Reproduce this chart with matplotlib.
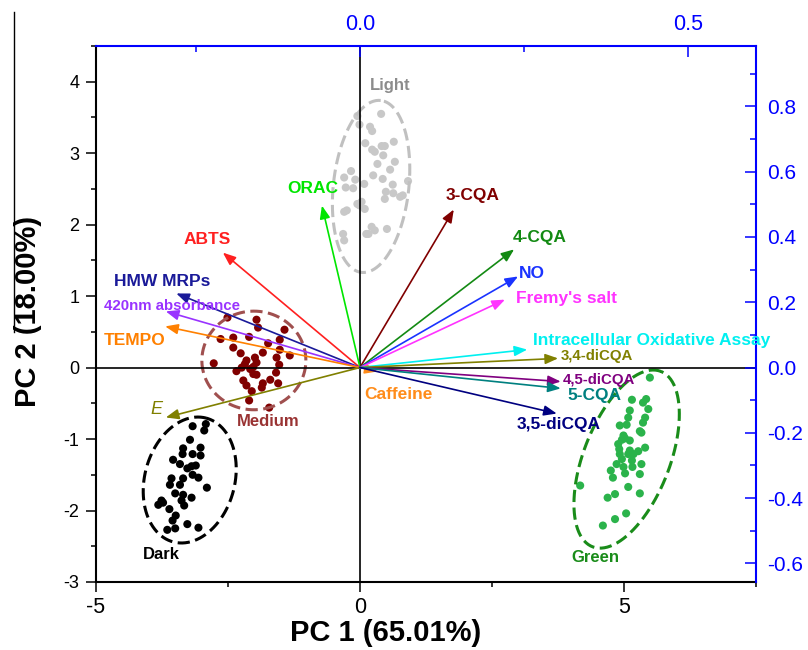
import numpy as np
import matplotlib
matplotlib.use('Agg')
import matplotlib.pyplot as plt
from matplotlib.lines import Line2D
from matplotlib.ticker import MultipleLocator

plt.rcParams['font.family'] = ['Liberation Sans', 'DejaVu Sans']
plt.rcParams['axes.unicode_minus'] = False

# PCA scores (PC1, PC2) per roast group
light_x = [0.40, -0.05, -0.01, 0.19, 0.23, 0.10, 0.23, 0.28, 0.41, 0.47, 0.44, 0.64, 0.66, 0.33, 0.57,
           -0.17, -0.30, -0.09, 0.25, 0.43, 0.08, -0.27, -0.13, 0.91, 0.62, 0.49, 0.63, 0.47, 0.76, 0.81,
           -0.05, 0.03, 0.09, -0.25, -0.30, 0.22, 0.16, 0.28, 0.51, -0.32, -0.30, -0.01, 0.12]
light_y = [3.55, 3.52, 3.40, 3.37, 3.31, 3.14, 3.05, 3.02, 3.10, 3.10, 2.97, 3.16, 2.88, 2.85, 2.77,
           2.75, 2.66, 2.63, 2.69, 2.64, 2.57, 2.52, 2.51, 2.61, 2.56, 2.46, 2.44, 2.36, 2.39, 2.41,
           2.29, 2.32, 2.22, 2.20, 2.18, 1.97, 1.87, 1.92, 1.94, 1.87, 1.78, 2.27, 1.87]

medium_x = [-2.51, -1.96, -1.93, -1.43, -2.64, -2.40, -2.10, -1.52, -2.40, -1.74, -2.26, -1.84, -1.52,
            -2.77, -1.99, -1.96, -2.18, -1.58, -1.53, -1.33, -2.24, -2.08, -2.02, -2.34, -2.02, -1.59,
            -2.21, -1.70, -1.84, -1.55, -2.15, -1.86, -2.05, -2.10, -1.72, -1.96, -2.15]
medium_y = [0.70, 0.67, 0.56, 0.53, 0.40, 0.42, 0.43, 0.39, 0.28, 0.34, 0.20, 0.21, 0.25,
            0.06, 0.14, 0.07, 0.05, 0.14, 0.04, 0.17, 0.00, -0.02, 0.01, -0.05, -0.09, -0.07,
            -0.18, -0.17, -0.22, -0.22, -0.25, -0.28, -0.33, -0.46, -0.56, -0.10, 0.10]

dark_x = [-3.17, -2.92, -2.95, -3.22, -3.35, -3.02, -3.36, -3.02, -3.17, -3.54, -3.41, -3.19, -3.11,
          -3.27, -3.17, -3.57, -3.35, -3.06, -3.60, -3.41, -2.90, -3.50, -3.35, -3.19, -3.76, -3.38,
          -3.82, -3.33, -3.61, -3.49, -3.55, -3.27, -3.50, -3.65, -3.06, -3.73]
dark_y = [-0.82, -0.79, -0.88, -1.01, -1.13, -1.12, -1.21, -1.23, -1.21, -1.29, -1.35, -1.38, -1.37,
          -1.41, -1.50, -1.55, -1.55, -1.54, -1.64, -1.64, -1.68, -1.76, -1.78, -1.82, -1.86, -1.86,
          -1.92, -1.93, -1.98, -2.07, -2.14, -2.19, -2.25, -2.27, -2.24, -1.89]

green_x = [5.49, 5.15, 5.36, 5.42, 5.11, 5.46, 5.08, 5.40, 5.36, 4.92, 5.05, 5.30, 5.33, 4.99, 4.96,
           5.11, 5.02, 5.40, 4.91, 5.11, 5.27, 4.92, 5.08, 4.96, 5.15, 4.86, 4.99, 5.16, 5.33, 4.75,
           5.02, 5.30, 4.79, 4.17, 5.08, 4.83, 4.69, 5.30, 5.04, 4.83, 4.60, 5.18, 4.89]
green_y = [-0.14, -0.45, -0.49, -0.44, -0.60, -0.58, -0.70, -0.70, -0.77, -0.81, -0.80, -0.89, -0.91,
           -0.95, -1.01, -1.02, -0.99, -1.12, -1.14, -1.16, -1.17, -1.21, -1.21, -1.28, -1.30, -1.35,
           -1.39, -1.39, -1.35, -1.44, -1.48, -1.49, -1.54, -1.65, -1.67, -1.77, -1.82, -1.76, -2.04,
           -2.12, -2.21, -1.21, -1.07]

# confidence ellipses: center, semi-axis vectors (PC units)
ell_center = {'Light': (0.21, 2.535), 'Medium': (-2.01, 0.10), 'Dark': (-3.225, -1.573), 'Green': (5.05, -1.28)}
ell_u = {'Light': (0.182, 1.203), 'Medium': (0.985, 0.0), 'Dark': (0.314, 0.866), 'Green': (0.647, 1.227)}
ell_v = {'Light': (-0.710, 0.059), 'Medium': (0.0, 0.69), 'Dark': (-0.823, 0.163), 'Green': (-0.760, 0.219)}

# loadings
variables = ['ORAC', 'ABTS', 'HMW MRPs', '420nm absorbance', 'TEMPO', 'E', 'Caffeine', '3-CQA', '4-CQA',
             'NO', "Fremy's salt", 'Intracellular Oxidative Assay', '3,4-diCQA', '4,5-diCQA', '5-CQA',
             '3,5-diCQA']
load_x = [-0.058, -0.209, -0.280, -0.296, -0.297, -0.296, 0.027, 0.143, 0.235, 0.241, 0.221, 0.255,
          0.302, 0.306, 0.306, 0.300]
load_y = [0.496, 0.352, 0.227, 0.172, 0.126, -0.153, -0.012, 0.484, 0.362, 0.279, 0.208, 0.055,
          0.028, -0.043, -0.064, -0.141]

var_colors = ['#00e600', '#ff2020', '#1a1a99', '#9933ff', '#ff8000', '#808000', '#ff8c1a', '#800000',
              '#138a13', '#1a33ff', '#ff33ff', '#00f0f0', '#808000', '#800080', '#008080', '#000080']
label_pos = [(-0.072, 0.547), (-0.233, 0.392), (-0.301, 0.263), (-0.287, 0.188), (-0.343, 0.083),
             (-0.311, -0.129), (0.058, -0.083), (0.171, 0.527), (0.274, 0.397), (0.262, 0.288),
             (0.315, 0.213), (0.444, 0.083), (0.361, 0.034), (0.364, -0.038), (0.358, -0.087),
             (0.303, -0.175)]
label_size = [12.5, 12.5, 12.5, 10.8, 12.5, 13, 12.5, 12.5, 12.5, 12.5, 12.5, 12.5, 10.8, 10.8, 12.5, 12.5]

fig = plt.figure(figsize=(8.08, 6.5), dpi=100)
ax = fig.add_axes([96/808, 68/650, 660/808, 536/650])

groups = [('Light', light_x, light_y, '#c8c8c8', '#c0c0c0', '#8c8c8c', (0.57, 3.95)),
          ('Medium', medium_x, medium_y, '#800000', '#a0504f', '#993333', (-1.74, -0.76)),
          ('Dark', dark_x, dark_y, 'black', 'black', 'black', (-3.76, -2.61)),
          ('Green', green_x, green_y, '#2bb34b', '#1a8c1a', '#1a8c1a', (4.45, -2.66))]

t = np.linspace(0, 2*np.pi, 200)
for name, gx, gy, pc, ec, tc, tp in groups:
    ax.scatter(gx, gy, s=34, color=pc, edgecolors='none', zorder=2)
    c = ell_center[name]; u = ell_u[name]; v = ell_v[name]
    ex = c[0] + u[0]*np.cos(t) + v[0]*np.sin(t)
    ey = c[1] + u[1]*np.cos(t) + v[1]*np.sin(t)
    ax.plot(ex, ey, color=ec, lw=2.2, ls=(0, (4, 1.8)), zorder=2)
    ax.text(tp[0], tp[1], name, color=tc, fontsize=12, fontweight='bold', ha='center', va='center')

ax.axhline(0, color='black', lw=1.2, zorder=3)
ax.axvline(0, color='black', lw=1.2, zorder=3)

ax.set_xlim(-5, 7.5)
ax.set_ylim(-3, 4.5)
ax.xaxis.set_major_locator(MultipleLocator(5))
ax.xaxis.set_minor_locator(MultipleLocator(2.5))
ax.yaxis.set_major_locator(MultipleLocator(1))
ax.yaxis.set_minor_locator(MultipleLocator(0.5))
ax.tick_params(axis='x', which='major', direction='out', length=7, width=1.1, labelsize=15.5, pad=4)
ax.tick_params(axis='y', which='major', direction='out', length=7, width=1.1, labelsize=13, pad=5)
ax.tick_params(which='minor', direction='out', length=3.5, width=1.1)
ax.spines['top'].set_visible(False)
ax.spines['right'].set_visible(False)
for s in ['left', 'bottom']:
    ax.spines[s].set_linewidth(1.5)

ax.set_xlabel('PC 1 (65.01%)', fontsize=21, fontweight='bold', va='center')
ax.xaxis.set_label_coords(0.439, -0.095)
ax.set_ylabel('PC 2 (18.00%)', fontsize=21, fontweight='bold', va='center')
ax.yaxis.set_label_coords(-0.103, 0.504)

# loading axes (right / top)
ax2 = ax.twinx()
ax2.set_ylim(-0.657, 0.985)
ax3 = ax2.twiny()
ax3.set_xlim(-0.4024, 0.6037)
blue = '#0000ff'
for a in (ax2, ax3):
    for s in a.spines.values():
        s.set_visible(False)
ax2.spines['right'].set_visible(True)
ax2.spines['right'].set_color(blue)
ax2.spines['right'].set_linewidth(1.5)
ax3.spines['top'].set_visible(True)
ax3.spines['top'].set_color(blue)
ax3.spines['top'].set_linewidth(1.5)

ax2.yaxis.set_major_locator(MultipleLocator(0.2))
ax2.yaxis.set_minor_locator(MultipleLocator(0.1))
ax2.yaxis.set_major_formatter(matplotlib.ticker.FormatStrFormatter('%.1f'))
ax2.tick_params(axis='y', which='major', direction='in', length=8, width=1.1, colors=blue, labelsize=15, pad=8)
ax2.tick_params(axis='y', which='minor', direction='in', length=4, width=1.1, colors=blue)
ax3.xaxis.set_major_locator(MultipleLocator(0.5))
ax3.xaxis.set_minor_locator(MultipleLocator(0.25))
ax3.xaxis.set_major_formatter(matplotlib.ticker.FormatStrFormatter('%.1f'))
ax3.tick_params(axis='x', which='major', direction='in', length=8, width=1.1, colors=blue, labelsize=15.5, pad=8)
ax3.tick_params(axis='x', which='minor', direction='in', length=4, width=1.1, colors=blue)

for name, lx, ly, col, lp, fs in zip(variables, load_x, load_y, var_colors, label_pos, label_size):
    ax3.annotate('', xy=(lx, ly), xytext=(0, 0),
                 arrowprops=dict(arrowstyle='-|>,head_length=0.55,head_width=0.22', color=col, lw=1.2,
                                 mutation_scale=14, shrinkA=0, shrinkB=0))
    if name == 'E':
        ax3.text(lp[0], lp[1], name, color=col, fontsize=fs, style='italic', ha='center', va='center')
    else:
        ax3.text(lp[0], lp[1], name, color=col, fontsize=fs, fontweight='bold', ha='center', va='center')

# stray frame line at left edge of the original figure
fig.add_artist(Line2D([13.5/808, 13.5/808], [1 - 12/650, 1 - 332/650], color='black', lw=1))

fig.savefig('out.png', dpi=100)
